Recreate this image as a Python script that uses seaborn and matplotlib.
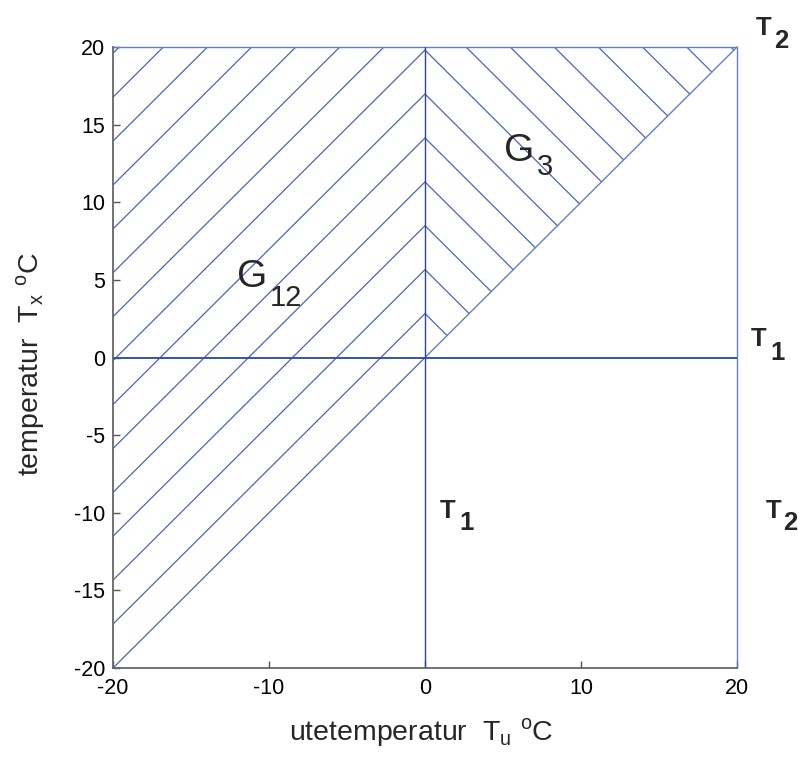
import matplotlib
matplotlib.use("Agg")

import numpy as np
import pandas as pd
import matplotlib.pyplot as plt
import seaborn as sns

# hatch line intercepts: value of Tx where each line meets Tu = 0
hatch_offsets = [0.0, 2.83, 5.66, 8.49, 11.31, 14.14, 16.97, 19.80,
                 22.63, 25.46, 28.28, 31.11, 33.94, 36.77, 39.60]
t_min, t_max = -20, 20
x_ticks = [-20, -10, 0, 10, 20]
y_ticks = [-20, -15, -10, -5, 0, 5, 10, 15, 20]

# region boundaries (Tu, Tx) pairs
frame_segments = {
    "top": [(t_min, t_max), (t_max, t_max)],
    "right": [(t_max, t_min), (t_max, t_max)],
    "diag": [(0, 0), (t_max, t_max)],
}
zero_h = [(t_min, 0), (t_max, 0)]
zero_v = [(0, t_min), (0, t_max)]

# annotation labels: (main text, subscript, main pos, subscript pos)
region_labels = [
    ("G", "12", (-12.05, 4.54), (-9.94, 3.32)),
    ("G", "3", (5.06, 12.66), (7.18, 11.76)),
]
limit_labels = [
    ("T", "2", (21.22, 20.77), (22.35, 19.94)),
    ("T", "1", (20.90, 0.74), (22.12, -0.16)),
    ("T", "1", (0.96, -10.34), (2.18, -11.11)),
    ("T", "2", (21.86, -10.34), (22.95, -11.11)),
]


def hatch_frame(offsets):
    rows = []
    seg = 0
    # G12: lines with slope +1 left of Tu = 0
    for c in offsets:
        x0, x1 = t_min, min(0, t_max - c)
        rows += [(seg, x0, x0 + c), (seg, x1, x1 + c)]
        seg += 1
    # G3: lines with slope -1 between Tu = 0 and the diagonal
    for c in offsets[1:]:
        x0, x1 = max(0, c - t_max), c / 2
        rows += [(seg, x0, c - x0), (seg, x1, c - x1)]
        seg += 1
    return pd.DataFrame(rows, columns=["seg", "x", "y"])


def seg_frame(segments):
    rows = []
    for i, pts in enumerate(segments):
        for x, y in pts:
            rows.append((i, x, y))
    return pd.DataFrame(rows, columns=["seg", "x", "y"])


sns.set_style("ticks")
plt.rcParams["font.family"] = ["Liberation Sans", "DejaVu Sans"]
plt.rcParams["mathtext.fontset"] = "custom"
plt.rcParams["mathtext.rm"] = "Liberation Sans"
plt.rcParams["axes.unicode_minus"] = False

fig = plt.figure(figsize=(7.98, 7.58), dpi=100)
ax = fig.add_axes([0.1416, 0.1187, 0.782, 0.8193])

blue = "#4a66b6"

sns.lineplot(data=hatch_frame(hatch_offsets), x="x", y="y", units="seg",
             estimator=None, sort=False, color=blue, lw=0.9, ax=ax)
sns.lineplot(data=seg_frame(list(frame_segments.values())), x="x", y="y",
             units="seg", estimator=None, sort=False, color="#6580c6",
             lw=1.0, ax=ax, clip_on=False)
sns.lineplot(data=seg_frame([zero_h]), x="x", y="y", units="seg",
             estimator=None, sort=False, color="#3553a8", lw=1.4, ax=ax)
sns.lineplot(data=seg_frame([zero_v]), x="x", y="y", units="seg",
             estimator=None, sort=False, color="#2c4594", lw=1.0, ax=ax)

ax.set_xlim(t_min, t_max)
ax.set_ylim(t_min, t_max)
ax.set_xticks(x_ticks)
ax.set_yticks(y_ticks)
ax.tick_params(direction="in", length=5, width=1, color="#555555",
               labelsize=15.5, labelcolor="black")
ax.tick_params(axis="x", pad=7)
ax.tick_params(axis="y", pad=5.5)
for side in ["top", "right"]:
    ax.spines[side].set_visible(False)
for side in ["left", "bottom"]:
    ax.spines[side].set_color("#666666")
    ax.spines[side].set_linewidth(1.3)

ax.set_xlabel(r"utetemperatur  T$_{\mathregular{u}}$ $^{\mathregular{o}}$C",
              fontsize=20.5)
ax.set_ylabel(r"temperatur  T$_{\mathregular{x}}$ $^{\mathregular{o}}$C",
              fontsize=20.5)
ax.xaxis.set_label_coords(0.494, -0.078)
ax.yaxis.set_label_coords(-0.106, 0.49)

for main, sub, p_main, p_sub in region_labels:
    ax.text(*p_main, main, fontsize=28, ha="left", va="baseline")
    ax.text(*p_sub, sub, fontsize=21, ha="left", va="baseline")

for main, sub, p_main, p_sub in limit_labels:
    ax.text(*p_main, main, fontsize=18.5, fontweight="bold", ha="left",
            va="baseline", clip_on=False)
    ax.text(*p_sub, sub, fontsize=18.5, fontweight="bold", ha="left",
            va="baseline", clip_on=False)

fig.savefig("out.png", dpi=100)
